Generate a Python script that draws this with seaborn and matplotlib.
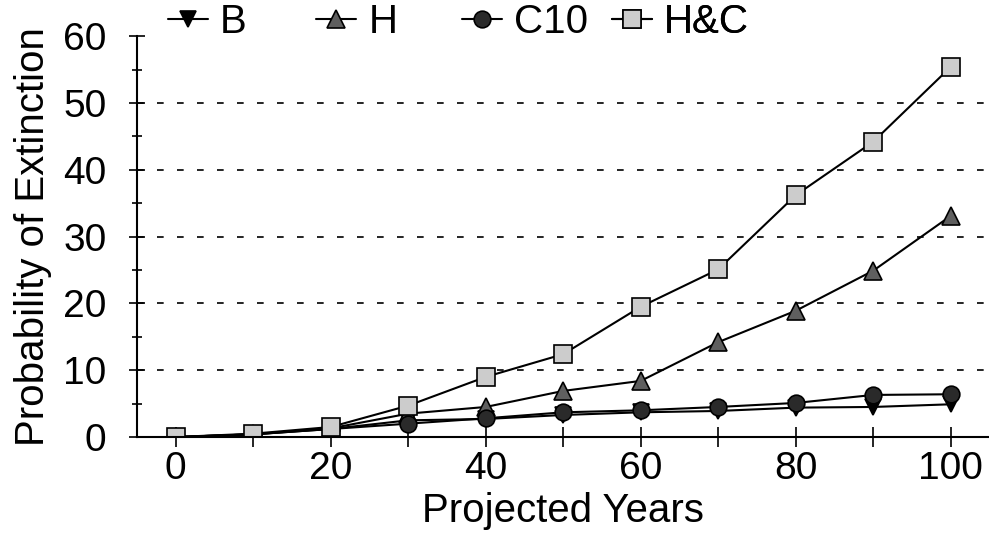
import pandas as pd
import numpy as np
import matplotlib.pyplot as plt
import seaborn as sns

# values
years = [0, 10, 20, 30, 40, 50, 60, 70, 80, 90, 100]
b_vals = [0, 0.4, 1.2, 2.5, 2.7, 3.3, 3.7, 3.9, 4.4, 4.5, 4.9]
h_vals = [0, 0.4, 1.3, 3.5, 4.5, 6.9, 8.4, 14.2, 18.9, 24.9, 33.1]
c10_vals = [0, 0.4, 1.2, 2.0, 2.8, 3.7, 4.0, 4.5, 5.1, 6.3, 6.4]
hc_vals = [0, 0.5, 1.5, 4.7, 9.0, 12.4, 19.5, 25.1, 36.2, 44.2, 55.4]

series_names = ['B', 'H', 'C10', 'H&C']
series_vals = [b_vals, h_vals, c10_vals, hc_vals]
markers = ['v', '^', 'o', 's']
face_cols = ['black', '#5f5f5f', '#2a2a2a', '#cccccc']
marker_sizes = [12, 13, 12, 12.5]
legend_x = [0.036, 0.21, 0.381, 0.557]

sns.set_style('ticks')
plt.rcParams['font.family'] = ['Liberation Sans', 'DejaVu Sans']
plt.rcParams['text.color'] = 'black'
plt.rcParams['axes.labelcolor'] = 'black'

fig = plt.figure(figsize=(9.89, 5.4), dpi=100)
ax = fig.add_axes([0.1385, 0.1907, 0.862, 0.7423])

# dashed reference lines
for yv in [10, 20, 30, 40, 50]:
    ax.axhline(yv, color='black', lw=1.2, ls=(0, (4, 8)), zorder=0)

lines = []
for name, vals, mk, fc, ms in zip(series_names, series_vals, markers, face_cols, marker_sizes):
    df = pd.DataFrame({'Year': years, 'P': vals})
    sns.lineplot(data=df, x='Year', y='P', ax=ax, color='black', lw=1.5,
                 marker=mk, markersize=ms, markerfacecolor=fc,
                 markeredgecolor='black', markeredgewidth=1.2)
    lines.append(ax.lines[-1])

ax.set_xlim(-5, 105)
ax.set_ylim(0, 60)
ax.set_xticks([0, 20, 40, 60, 80, 100])
ax.set_xticks([10, 30, 50, 70, 90], minor=True)
ax.set_yticks(np.arange(0, 61, 10))
ax.set_yticks(np.arange(5, 60, 10), minor=True)
ax.tick_params(axis='both', which='both', direction='inout', width=1.2,
               labelsize=28, color='black', labelcolor='black')
ax.tick_params(axis='y', which='major', length=12, pad=16)
ax.tick_params(axis='y', which='minor', length=7)
ax.tick_params(axis='x', which='both', length=14, pad=3)

sns.despine(ax=ax)
for sp in ['left', 'bottom']:
    ax.spines[sp].set_linewidth(1.5)
    ax.spines[sp].set_color('black')

ax.set_xlabel('Projected Years', fontsize=29, labelpad=4, color='black')
ax.set_ylabel('Probability of Extinction', fontsize=29, labelpad=8, color='black')

# one legend per entry so the columns sit at even spacing as in the original
for ln, name, lx in zip(lines, series_names, legend_x):
    leg = ax.legend([ln], [name], loc='center left', bbox_to_anchor=(lx, 1.035),
                    frameon=False, fontsize=29, handlelength=1.0,
                    handletextpad=0.3, borderpad=0, borderaxespad=0,
                    labelcolor='black')
    ax.add_artist(leg)

fig.savefig('out.png', dpi=100)
